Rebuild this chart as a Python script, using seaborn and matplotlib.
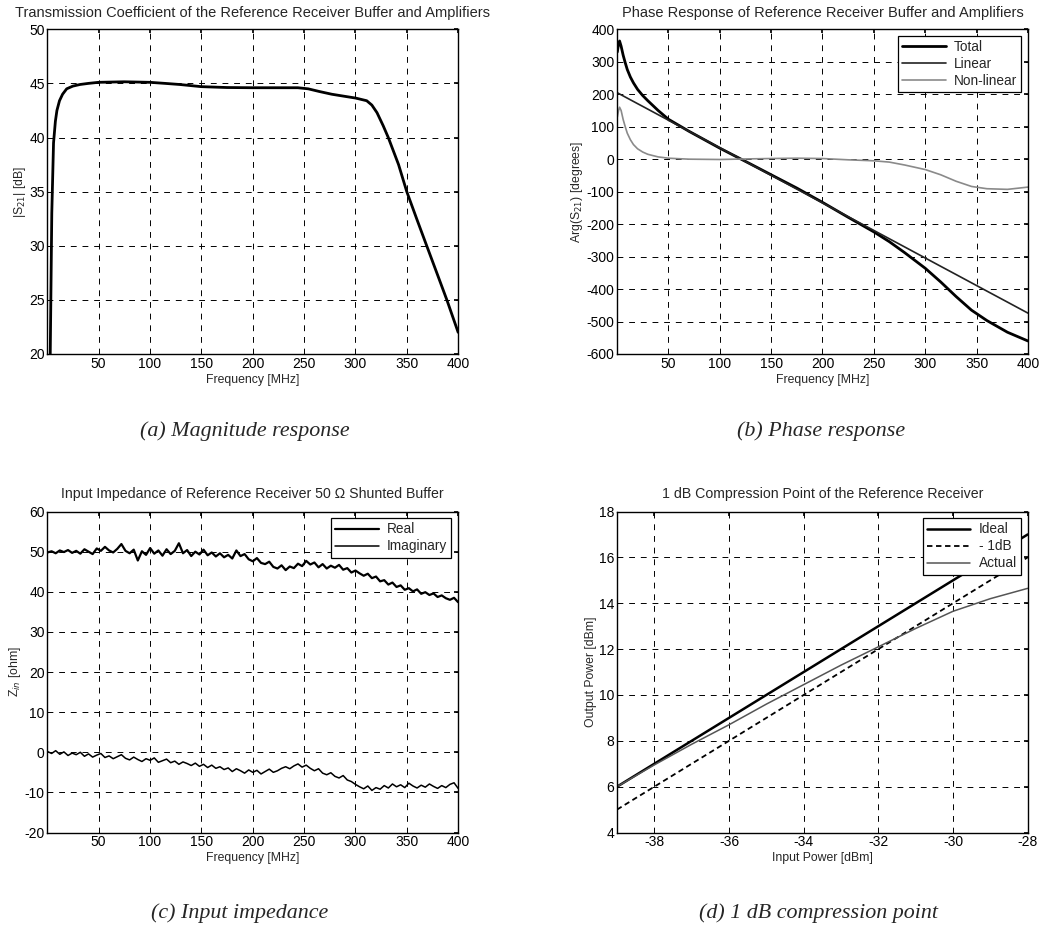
import numpy as np
import pandas as pd
import matplotlib
matplotlib.use("Agg")
import matplotlib.pyplot as plt
import seaborn as sns

# ---------------- data ----------------
# (a) magnitude response
mag_freq = [2.0, 3.0, 4.5, 6.2, 8.0, 9.5, 12, 15, 19, 25, 32, 40, 50, 75, 100, 115, 129, 150,
            175, 200, 225, 244, 254, 265, 277, 290, 300, 311, 316, 321, 327, 332, 342, 350,
            360, 369, 380, 389, 400]
mag_db = [15.0, 20.0, 33.0, 39.5, 41.5, 42.5, 43.4, 44.0, 44.5, 44.75, 44.9, 45.0, 45.1, 45.15,
          45.1, 45.0, 44.9, 44.7, 44.62, 44.6, 44.6, 44.6, 44.5, 44.25, 44.0, 43.8, 43.65, 43.4,
          43.0, 42.3, 41.1, 40.0, 37.5, 35.0, 32.4, 30.1, 27.3, 25.0, 22.0]

# (b) phase response
ph_freq = [0.3, 1.5, 2.5, 4, 6, 8, 10, 13, 16, 20, 25, 30, 40, 50, 70, 100, 130, 150, 175, 200,
           225, 250, 265, 280, 300, 315, 330, 345, 360, 380, 400]
ph_total = [330, 355, 364, 348, 320, 297, 276, 253, 235, 215, 196, 180, 150, 123, 86, 34, -15,
            -48, -89, -133, -179, -224, -254, -288, -336, -378, -423, -465, -497, -533, -560]
ph_linear = [204.5, 202.5, 200.8, 198.2, 194.8, 191.4, 188.0, 182.9, 177.8, 171.0, 162.6, 154.1,
             137.1, 120.1, 86.1, 35.2, -15.7, -49.7, -92.2, -134.6, -177.1, -219.5, -245.0,
             -270.4, -304.4, -329.9, -355.3, -380.8, -406.3, -440.2, -474.2]
ph_nonlinear = [130, 150, 160, 150, 122, 100, 80, 60, 45, 32, 22, 15, 7, 3, 0, -1, 1, 2, 3, 2,
                -2, -5, -9, -18, -32, -48, -68, -84, -91, -93, -86]

# (c) input impedance
z_real = [49.8, 50.1, 49.6, 50.3, 49.9, 50.4, 49.7, 50.2, 49.5, 50.6,
          50.0, 49.4, 50.8, 50.2, 51.2, 50.3, 49.8, 50.7, 51.9, 50.2,
          49.6, 50.5, 47.8, 50.1, 49.2, 50.9, 49.5, 50.3, 49.0, 50.6,
          49.4, 50.2, 52.1, 49.6, 50.4, 48.9, 50.0, 49.3, 50.5, 49.1,
          49.8, 48.8, 49.6, 48.6, 49.2, 48.3, 50.3, 48.9, 49.4, 48.1,
          47.6, 48.4, 47.2, 46.9, 47.5, 46.2, 45.8, 46.6, 45.4, 46.3,
          45.9, 47.0, 46.4, 47.7, 46.8, 47.3, 46.1, 46.9, 45.8, 46.5,
          46.0, 46.7, 45.5, 45.9, 44.8, 45.3, 44.6, 44.0, 44.5, 43.4,
          43.8, 42.6, 42.9, 41.8, 42.3, 41.2, 41.6, 40.5, 40.9, 40.1,
          40.6, 39.5, 39.9, 39.2, 39.6, 38.7, 39.1, 38.4, 38.0, 38.5, 37.4]
z_imag = [0.2, -0.3, 0.4, -0.5, 0.1, -0.8, -0.2, -0.6, 0.0, -1.0,
          -0.4, -1.2, -0.7, -0.3, -1.3, -0.9, -1.6, -1.1, -0.6, -1.5,
          -1.9, -1.2, -1.8, -2.3, -1.6, -2.0, -1.4, -2.5, -2.1, -1.7,
          -2.6, -2.2, -3.0, -2.4, -2.8, -3.3, -2.7, -3.5, -3.0, -3.8,
          -3.2, -4.0, -3.6, -4.3, -3.9, -4.8, -4.1, -4.6, -5.2, -4.4,
          -5.0, -4.5, -5.4, -4.8, -4.2, -5.0, -4.6, -4.0, -3.6, -4.1,
          -3.4, -2.9, -3.7, -3.2, -4.0, -4.6, -4.1, -5.2, -5.6, -5.1,
          -6.0, -6.4, -5.8, -6.9, -7.3, -8.0, -8.6, -9.1, -8.4, -9.5,
          -8.8, -9.2, -8.3, -8.9, -7.9, -8.6, -8.1, -8.8, -7.7, -8.4,
          -8.9, -8.2, -8.7, -7.9, -8.5, -9.0, -8.3, -8.8, -8.0, -7.6, -9.0]
z_freq = np.linspace(0.3, 400, len(z_real))

# (d) 1 dB compression
p_in = [-39, -38, -37, -36, -35, -34, -33, -32, -31, -30, -29, -28]
p_ideal = [6, 7, 8, 9, 10, 11, 12, 13, 14, 15, 16, 17]
p_minus1 = [5, 6, 7, 8, 9, 10, 11, 12, 13, 14, 15, 16]
p_actual = [6.0, 6.95, 7.85, 8.7, 9.6, 10.45, 11.3, 12.1, 12.9, 13.65, 14.2, 14.65]

# ---------------- style ----------------
sns.set_theme(style="white")
plt.rcParams['font.family'] = ['Liberation Sans', 'DejaVu Sans']
plt.rcParams['axes.unicode_minus'] = False
plt.rcParams['axes.edgecolor'] = 'black'
plt.rcParams['axes.linewidth'] = 1.0
plt.rcParams['xtick.color'] = 'black'
plt.rcParams['ytick.color'] = 'black'

TITLE_FS = 10.5
LABEL_FS = 8.8
TICK_FS = 10
CAP_FS = 15.8

fig = plt.figure(figsize=(10.41, 9.48), dpi=100)
W = 0.3945
axA = fig.add_axes([0.0456, 0.6266, W, 0.3425])
axB = fig.add_axes([0.5930, 0.6266, W, 0.3425])
axC = fig.add_axes([0.0456, 0.1218, W, 0.3386])
axD = fig.add_axes([0.5927, 0.1218, W, 0.3386])


def style(ax):
    ax.grid(True, color='black', linestyle=(0, (6, 6)), linewidth=0.7)
    ax.tick_params(direction='in', length=3, labelsize=TICK_FS, pad=2,
                   top=True, right=True)
    for s in ax.spines.values():
        s.set_color('black')
        s.set_linewidth(1.0)


def legend(ax):
    lg = ax.legend(loc='upper right', fontsize=9.8, frameon=True, fancybox=False,
                   edgecolor='black', framealpha=1, handlelength=3.2,
                   borderpad=0.3, labelspacing=0.22, handletextpad=0.6,
                   borderaxespad=0.5)
    lg.get_frame().set_linewidth(0.9)


# (a)
sns.lineplot(x=mag_freq, y=mag_db, ax=axA, color='black', linewidth=2.0)
axA.set_xlim(0.3, 400)
axA.set_ylim(20, 50)
axA.set_xticks([50, 100, 150, 200, 250, 300, 350, 400])
axA.set_yticks([20, 25, 30, 35, 40, 45, 50])
axA.set_title('Transmission Coefficient of the Reference Receiver Buffer and Amplifiers',
              fontsize=TITLE_FS, pad=9)
axA.set_xlabel('Frequency [MHz]', fontsize=LABEL_FS, labelpad=2)
axA.set_ylabel('|S$_{21}$| [dB]', fontsize=LABEL_FS, labelpad=1)
style(axA)

# (b)
sns.lineplot(x=ph_freq, y=ph_total, ax=axB, color='black', linewidth=2.0, label='Total')
sns.lineplot(x=ph_freq, y=ph_linear, ax=axB, color='#222222', linewidth=1.2, label='Linear')
sns.lineplot(x=ph_freq, y=ph_nonlinear, ax=axB, color='#8a8a8a', linewidth=1.2, label='Non-linear')
axB.set_xlim(0.3, 400)
axB.set_ylim(-600, 400)
axB.set_xticks([50, 100, 150, 200, 250, 300, 350, 400])
axB.set_yticks(list(range(-600, 401, 100)))
axB.set_title('Phase Response of Reference Receiver Buffer and Amplifiers',
              fontsize=TITLE_FS, pad=9)
axB.set_xlabel('Frequency [MHz]', fontsize=LABEL_FS, labelpad=2)
axB.set_ylabel('Arg(S$_{21}$) [degrees]', fontsize=LABEL_FS, labelpad=1)
style(axB)
legend(axB)

# (c)
sns.lineplot(x=z_freq, y=z_real, ax=axC, color='black', linewidth=1.6, label='Real')
sns.lineplot(x=z_freq, y=z_imag, ax=axC, color='black', linewidth=1.1, label='Imaginary')
axC.set_xlim(0.3, 400)
axC.set_ylim(-20, 60)
axC.set_xticks([50, 100, 150, 200, 250, 300, 350, 400])
axC.set_yticks(list(range(-20, 61, 10)))
axC.set_title('Input Impedance of Reference Receiver 50 \u03a9 Shunted Buffer',
              fontsize=TITLE_FS - 0.3, pad=10)
axC.set_xlabel('Frequency [MHz]', fontsize=LABEL_FS, labelpad=2)
axC.set_ylabel('Z$_{in}$ [ohm]', fontsize=LABEL_FS, labelpad=1)
style(axC)
legend(axC)

# (d)
sns.lineplot(x=p_in, y=p_ideal, ax=axD, color='black', linewidth=1.8, label='Ideal')
sns.lineplot(x=p_in, y=p_minus1, ax=axD, color='black', linewidth=1.3,
             linestyle=(0, (3, 2)), label='- 1dB')
sns.lineplot(x=p_in, y=p_actual, ax=axD, color='#555555', linewidth=1.1, label='Actual')
axD.set_xlim(-39, -28)
axD.set_ylim(4, 18)
axD.set_xticks([-38, -36, -34, -32, -30, -28])
axD.set_yticks(list(range(4, 19, 2)))
axD.set_title('1 dB Compression Point of the Reference Receiver', fontsize=TITLE_FS - 0.3, pad=10)
axD.set_xlabel('Input Power [dBm]', fontsize=LABEL_FS, labelpad=2)
axD.set_ylabel('Output Power [dBm]', fontsize=LABEL_FS, labelpad=1)
style(axD)
legend(axD)

# captions
cap_kw = dict(fontsize=CAP_FS, family=['Liberation Serif', 'DejaVu Serif'],
              style='italic', ha='center', va='center')
fig.text(0.235, 0.545, '(a) Magnitude response', **cap_kw)
fig.text(0.789, 0.545, '(b) Phase response', **cap_kw)
fig.text(0.230, 0.037, '(c) Input impedance', **cap_kw)
fig.text(0.786, 0.037, '(d) 1 dB compression point', **cap_kw)

fig.savefig('out.png', dpi=100, facecolor='white')
